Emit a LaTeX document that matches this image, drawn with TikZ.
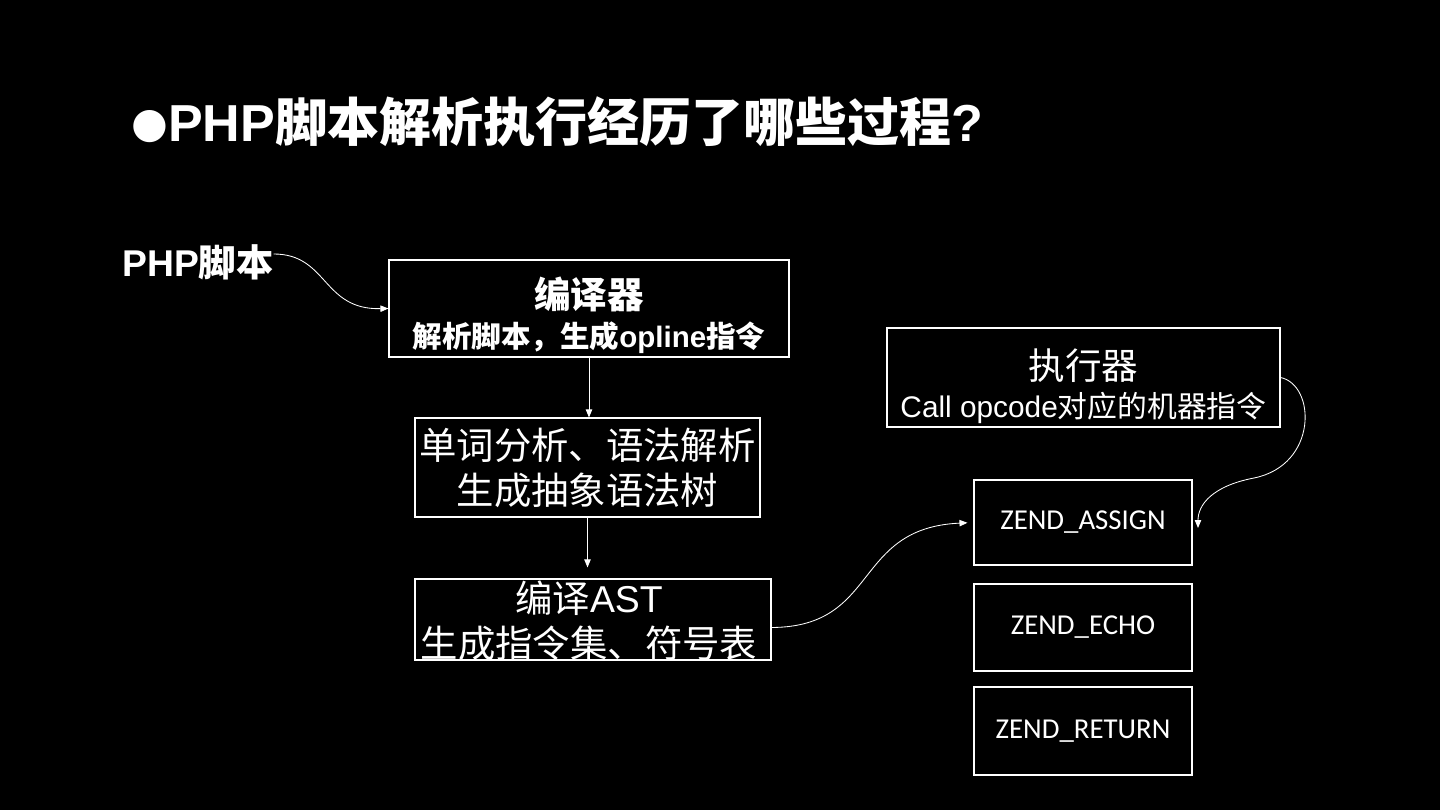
\documentclass[tikz,border=0pt]{standalone}
\usepackage{fontspec}
\setmainfont{Liberation Sans}
\newfontfamily\cjk{Noto Sans CJK SC}
\newfontfamily\calib{Carlito}
\newfontfamily\symb{DejaVu Sans}
\usetikzlibrary{arrows.meta}

\tikzset{
  box/.style={draw=white, line width=0.8pt, inner sep=0pt, text=white, align=center},
  zendbox/.style={box, minimum width=54.5mm, font=\calib\fontsize{20.5pt}{24pt}\selectfont},
  flow/.style={draw=white, line width=0.6pt, -{Triangle[length=2mm,width=1.6mm]}},
  plain/.style={inner sep=0pt, text=white, align=center}
}

\begin{document}
\begin{tikzpicture}[x=0.25mm, y=-0.25mm]
  \fill[black] (0,0) rectangle (1440,810);
  \useasboundingbox (0,0) rectangle (1440,810);

  % title
  \node[plain, anchor=west, font=\bfseries\fontsize{37pt}{44pt}\selectfont] (title) at (131,122)
    {{\symb\fontsize{30pt}{30pt}\selectfont\raisebox{3pt}{●}}PHP{\cjk 脚本解析执行经历了哪些过程}?};

  % compile side
  \node[plain, anchor=west, font=\bfseries\fontsize{26.5pt}{30pt}\selectfont] (php) at (122,262) {PHP{\cjk 脚本}};
  \node[box, minimum width=100mm, minimum height=24.25mm] (comp) at (589,308.5) {};
  \node[plain, font=\bfseries\fontsize{21pt}{28pt}\selectfont] (comptext) at (589,315)
    {{\cjk\fontsize{26pt}{28pt}\selectfont 编译器}\\{\cjk 解析脚本，生成}opline{\cjk 指令}};
  \node[box, minimum width=86.25mm, minimum height=24.75mm, font=\cjk\fontsize{26.6pt}{32pt}\selectfont] (lex) at (587.5,467.5)
    {单词分析、语法解析\\生成抽象语法树};
  \node[box, minimum width=89mm, minimum height=20.25mm] (ast) at (593,619.5) {};
  \node[plain, font=\fontsize{26.6pt}{32pt}\selectfont] (asttext) at (589,621) {{\cjk 编译}AST\\{\cjk 生成指令集、符号表}};

  % execute side
  \node[box, minimum width=98.25mm, minimum height=24.75mm] (exec) at (1083.5,377.5) {};
  \node[plain, font=\fontsize{21.2pt}{27pt}\selectfont] (exectext) at (1083.5,386)
    {{\cjk\fontsize{26pt}{27pt}\selectfont 执行器}\\Call opcode{\cjk 对应的机器指令}};
  \node[zendbox, minimum height=21.25mm] (za) at (1083,522.5) {ZEND\_ASSIGN};
  \node[zendbox, minimum height=21.75mm] (ze) at (1083,627.5) {ZEND\_ECHO};
  \node[zendbox, minimum height=22mm] (zr) at (1083,731) {ZEND\_RETURN};
  \coordinate (zaend) at (1198,528);

  % arrows
  \draw[flow] ([yshift=2mm]php.east) .. controls (328,254) and (322,310) .. (comp.west);
  \draw[flow] (comp.south) -- (comp.south |- lex.north);
  \draw[flow, shorten >=2.75mm] (lex.south) -- (lex.south |- ast.north);
  \draw[flow, shorten >=1.5mm] ([yshift=-2mm]ast.east) .. controls (880,627) and (852,528) .. (za.west);
  \draw[flow] (exec.east) .. controls (1316,385) and (1318,465) .. (1254,478)
    .. controls (1212,486) and (1198,505) .. (zaend);
\end{tikzpicture}
\end{document}
